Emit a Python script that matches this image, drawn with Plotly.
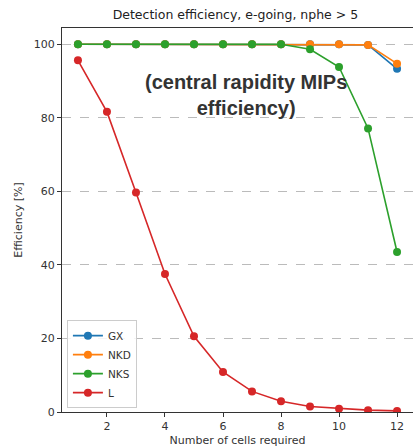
import plotly.graph_objects as go

cells = [1, 2, 3, 4, 5, 6, 7, 8, 9, 10, 11, 12]
gx = [100, 100, 100, 100, 100, 100, 100, 100, 100, 100, 99.8, 93.3]
nkd = [100, 100, 100, 100, 100, 100, 100, 100, 100, 100, 99.8, 94.7]
nks = [100, 100, 100, 100, 100, 100, 100, 100, 98.6, 93.8, 77.1, 43.5]
lvals = [95.6, 81.6, 59.7, 37.5, 20.6, 10.9, 5.6, 2.9, 1.5, 0.9, 0.5, 0.3]

series = [("GX", gx, "#1f77b4"), ("NKD", nkd, "#ff7f0e"),
          ("NKS", nks, "#2ca02c"), ("L", lvals, "#d62728")]

fig = go.Figure()
for name, vals, col in series:
    fig.add_trace(go.Scatter(x=cells, y=vals, name=name, mode="lines+markers",
                             line=dict(color=col, width=1.6),
                             marker=dict(color=col, size=8)))

fig.update_layout(
    width=413, height=448,
    margin=dict(l=62, r=0, t=28, b=36),
    plot_bgcolor="white", paper_bgcolor="white",
    font=dict(family="DejaVu Sans", size=11, color="#333"),
    title=dict(text="Detection efficiency, e-going, nphe > 5", x=0.57, xanchor="center",
               y=0.968, yanchor="middle", font=dict(size=12.5, color="#222")),
    xaxis=dict(range=[0.45, 12.55], tickvals=[2, 4, 6, 8, 10, 12], showgrid=False,
               zeroline=False, showline=True, linecolor="#333", linewidth=1, mirror=True,
               ticks="outside", ticklen=4, tickcolor="#333",
               title=dict(text="Number of cells required", standoff=4, font=dict(size=11))),
    yaxis=dict(range=[0, 104.4], tickvals=[0, 20, 40, 60, 80, 100], showgrid=True,
               gridcolor="#bbbbbb", griddash="dash", gridwidth=0.8, zeroline=False,
               showline=True, linecolor="#333", linewidth=1,
               ticks="outside", ticklen=4, tickcolor="#333",
               title=dict(text="Efficiency [%]", standoff=8, font=dict(size=11))),
    legend=dict(x=0.014, y=0.01, xanchor="left", yanchor="bottom",
                bgcolor="rgba(255,255,255,0.85)", bordercolor="#cccccc", borderwidth=1,
                font=dict(size=10.5), itemwidth=30, tracegroupgap=0),
    showlegend=True,
)

fig.add_annotation(text="<b>(central rapidity MIPs<br>efficiency)</b>",
                   x=0.525, y=0.825, xref="paper", yref="paper", showarrow=False,
                   xanchor="center", yanchor="middle", align="center",
                   font=dict(family="Liberation Sans", size=20, color="#333"))

fig.write_html("out.html")
